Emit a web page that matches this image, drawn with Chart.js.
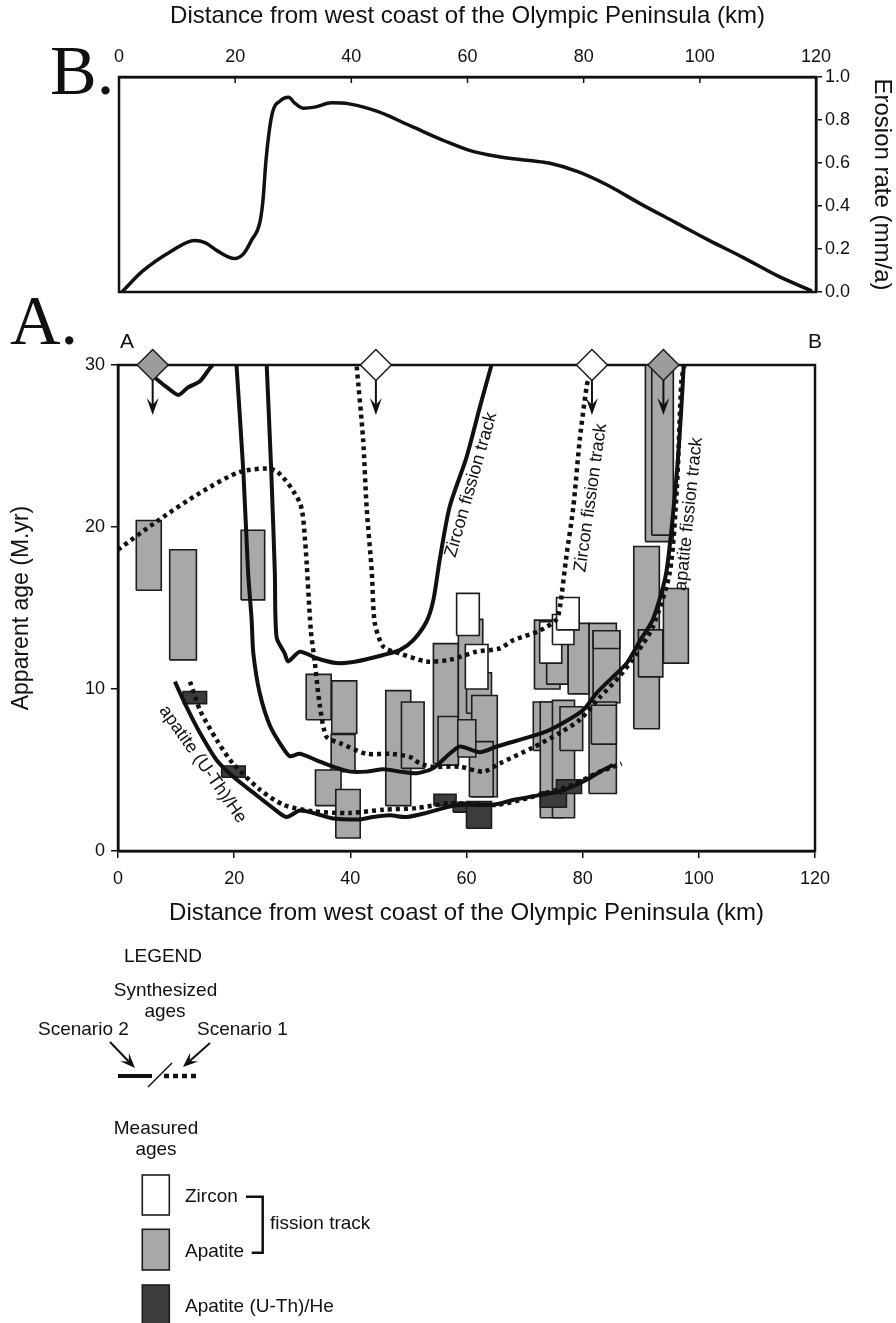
<!DOCTYPE html>
<html>
<head>
<meta charset="utf-8">
<script src="https://cdn.jsdelivr.net/npm/chart.js@4.4.0/dist/chart.umd.min.js"></script>
<style>
  body { margin: 0; background: #fff; }
  #page { position: relative; width: 896px; height: 1323px; overflow: hidden; font-family: "Liberation Sans", Arial, sans-serif; color: #111; }
  #chartB { position: absolute; left: 0; top: 0; }
  #chartA { position: absolute; left: 0; top: 300px; }
  .big { position: absolute; font-family: "Liberation Serif", "Times New Roman", serif; font-size: 70px; line-height: 1; }
  .corner { position: absolute; font-size: 21px; line-height: 1; }
  #legend { position: absolute; left: 0; top: 930px; }
</style>
</head>
<body>
<div id="page">
  <canvas id="chartB" width="896" height="310"></canvas>
  <canvas id="chartA" width="896" height="640"></canvas>
  <div class="big" style="left:50px; top:36px;">B.</div>
  <div class="big" style="left:10px; top:286px;">A.</div>
  <div class="corner" style="left:120px; top:330px;">A</div>
  <div class="corner" style="left:808px; top:330px;">B</div>
  <svg id="legend" width="450" height="393"></svg>
</div>

<script>
// B. erosion rate along the profile
const erosionKm   = [0.5, 4.1, 9, 13, 14.8, 17, 19.9, 21.5, 22.8, 24.3, 24.8, 25.3, 26.3, 27.8, 29.2, 30.2, 31.7, 33.7, 36.6, 39.6, 44.5, 50.4, 56.3, 60.2, 65.2, 71.1, 74, 79, 83.9, 89.8, 95.7, 101.6, 107.5, 113.4, 119.3];
const erosionRate = [0, 0.098, 0.19, 0.24, 0.23, 0.19, 0.156, 0.18, 0.24, 0.33, 0.43, 0.61, 0.82, 0.89, 0.906, 0.88, 0.855, 0.86, 0.88, 0.875, 0.84, 0.77, 0.70, 0.66, 0.63, 0.61, 0.6, 0.56, 0.5, 0.41, 0.325, 0.24, 0.16, 0.075, 0.005];
const distTicks = [0, 20, 40, 60, 80, 100, 120];
const rateTicks = [0, 0.2, 0.4, 0.6, 0.8, 1.0];
const ageTicks  = [0, 10, 20, 30];

// A. synthesized ages - scenario 2 (solid)
const s2TopKm  = [6.4, 8.5, 10.4, 12, 14.1, 15.8, 16.3];
const s2TopAge = [29.2, 28.6, 28.15, 28.6, 29.0, 29.8, 30];
const s2ZirconKm  = [25.6, 26.4, 27.0, 27.3, 28.7, 29.3, 31.3, 34.2, 37.6, 41, 45.7, 48.5, 50.8, 53.1, 54.3, 55.4, 57.1, 60, 62.3, 64.3];
const s2ZirconAge = [30, 23.3, 17.2, 13.2, 12.2, 11.7, 12.3, 11.9, 11.6, 11.7, 12.1, 12.4, 13.0, 14.15, 15.5, 18.0, 21.25, 24.3, 27.4, 30];
const s2ApatiteKm  = [20.4, 21.6, 22.4, 23.0, 23.3, 24.4, 26.2, 28.5, 29.6, 31.3, 34.2, 37.1, 40, 42.8, 45.7, 48.5, 51.4, 54.2, 57.1, 58.9, 62.3, 65.2, 73.2, 76.6, 80.1, 82.4, 85.2, 87.6, 89.9, 92.1, 94.4, 96.2, 97.0, 97.4];
const s2ApatiteAge = [30, 23.3, 17.2, 14.3, 12.2, 9.75, 7.7, 6.3, 5.85, 6.0, 5.6, 5.2, 4.9, 4.9, 5.05, 4.9, 4.8, 5.1, 6.0, 6.45, 6.1, 6.45, 7.3, 7.9, 8.7, 9.75, 10.75, 11.6, 13.0, 14.3, 17.2, 23.3, 27.4, 30];
const s2HeKm  = [9.8, 11.8, 14.1, 17, 19.8, 23.3, 26.7, 29, 31.3, 34.1, 37.1, 41.7, 43.9, 46.8, 49.7, 53.1, 57.1, 60, 64.6, 68, 72.6, 76.6, 80.7, 83.5, 85.2];
const s2HeAge = [10.45, 8.9, 7.3, 5.6, 4.6, 3.6, 2.65, 2.1, 2.5, 2.3, 2.0, 1.95, 2.1, 2.2, 2.1, 2.35, 2.75, 2.85, 2.85, 3.15, 3.45, 3.75, 4.4, 5.0, 5.3];

// A. synthesized ages - scenario 1 (dotted)
const s1ApatiteKm  = [0, 6.9, 14.1, 21, 27, 31.3, 32.2, 33.2, 33.9, 34.7, 35.9, 38.2, 42.8, 46.8, 50.3, 52, 54.2, 58.9, 62.9, 65.7, 71.5, 76.1, 79.5, 83, 86.4, 89.3, 92.1, 95, 96.2, 97, 97.5];
const s1ApatiteAge = [18.6, 20.4, 22.1, 23.4, 23.5, 21.5, 19.2, 13.6, 11.6, 9.1, 7.05, 6.66, 6.0, 6.0, 5.8, 5.4, 5.2, 5.2, 4.9, 5.4, 6.4, 7.3, 8.1, 9.5, 10.8, 12.2, 13.85, 17.2, 22.3, 29.0, 30];
const s1ZirconKm  = [41.1, 42.2, 42.8, 43.7, 44.2, 45.7, 48.5, 53.1, 57.1, 61.7, 65.7, 68, 72.6, 75.5, 76.1, 77.2, 78.4, 79.5, 80.7, 81.3];
const s1ZirconAge = [29.9, 25.4, 21.25, 17.2, 14.1, 12.6, 12.2, 11.7, 11.8, 12.3, 12.5, 13.0, 13.6, 14.3, 15.1, 18.2, 21.25, 25.4, 28.7, 29.6];
const s1HeKm  = [12.4, 14.1, 17, 19.8, 24.4, 28.5, 33.6, 39.9, 45.7, 51.4, 57.1, 65.2, 70.9, 73.8, 78.4, 82.4, 86.7];
const s1HeAge = [10.45, 8.7, 6.85, 5.4, 3.8, 2.85, 2.45, 2.35, 2.55, 2.65, 2.95, 2.85, 3.3, 3.6, 4.1, 4.8, 5.4];

// A. measured ages (age ranges), later entries sit on top
const apatiteLeft  = [3.15, 8.9, 21.2, 32.4, 36.8, 36.7, 34.0, 37.5, 46.1, 48.8, 54.3, 55.1, 58.6, 60.0, 60.9, 60.5, 58.5, 71.7, 73.8, 77.5, 81.1, 81.8, 81.8, 71.5, 72.7, 74.8, 76.1, 81.1, 81.5, 90.8, 91.9, 88.8, 93.9, 89.6];
const apatiteRight = [7.45, 13.5, 25.25, 36.7, 41.1, 40.8, 38.4, 41.7, 50.4, 52.7, 58.6, 58.6, 62.8, 64.3, 65.3, 64.6, 61.6, 76.1, 77.5, 81.1, 85.8, 86.4, 86.4, 74.8, 76.6, 78.6, 80.0, 85.8, 85.8, 95.6, 95.6, 93.2, 98.2, 93.8];
const apatiteLow   = [16.1, 11.8, 15.5, 8.1, 7.25, 4.9, 2.8, 0.8, 2.8, 5.1, 5.4, 5.3, 8.1, 8.5, 3.35, 3.35, 5.8, 10.0, 10.3, 9.7, 9.2, 9.15, 12.5, 6.2, 2.05, 2.05, 6.2, 3.55, 6.6, 19.1, 19.5, 7.55, 11.6, 10.75];
const apatiteHigh  = [20.4, 18.6, 19.8, 10.9, 10.5, 7.2, 5.0, 3.8, 9.9, 9.2, 12.8, 8.3, 14.3, 11.0, 9.6, 6.75, 8.1, 14.25, 12.8, 14.05, 14.05, 13.6, 13.6, 9.2, 9.2, 9.3, 8.9, 9.2, 9.0, 30, 30, 18.8, 16.2, 13.65];

const zirconLeft  = [58.3, 59.8, 72.6, 74.8, 75.5];
const zirconRight = [62.2, 63.7, 76.4, 78.5, 79.4];
const zirconLow   = [13.3, 10.0, 11.6, 12.75, 13.65];
const zirconHigh  = [15.9, 12.75, 14.15, 14.6, 15.65];

const heLeft  = [11.2, 17.85, 54.4, 57.7, 60.0, 72.7, 75.5];
const heRight = [15.25, 21.9, 58.2, 61.7, 64.3, 77.2, 79.8];
const heLow   = [9.1, 4.55, 2.8, 2.4, 1.4, 2.7, 3.55];
const heHigh  = [9.85, 5.25, 3.5, 3.0, 3.05, 3.65, 4.4];

// samples older than 30 Ma (markers on the top edge)
const oldKm   = [5.97, 44.4, 81.6, 93.9];
const oldKind = ['apatite', 'zircon', 'zircon', 'apatite'];

const INK = '#111';
const GRAY = '#a8a8a8';
const DARK = '#3c3c3c';
Chart.defaults.font.family = '"Liberation Sans", Arial, sans-serif';
Chart.defaults.color = INK;

function pts(xs, ys) {
    return xs.map((x, i) => ({ x: x, y: ys[i] }));
}

// closed outline of one age range
function boxPts(x0, x1, y0, y1) {
    return [{x: x0, y: y0}, {x: x1, y: y0}, {x: x1, y: y1}, {x: x0, y: y1}, {x: x0, y: y0}];
}

function curve(xs, ys, dotted) {
    return {
        data: pts(xs, ys),
        borderColor: INK,
        borderWidth: dotted ? 4.5 : 4,
        borderDash: dotted ? [4, 4] : [],
        borderCapStyle: 'butt',
        borderJoinStyle: 'round',
        tension: 0.25,
        pointRadius: 0,
        fill: false,
        order: 1
    };
}

function boxes(left, right, low, high, color, order) {
    const list = [];
    // reversed so the last range of each list is drawn on top
    for (let i = left.length - 1; i >= 0; i--) {
        list.push({
            data: boxPts(left[i], right[i], low[i], high[i]),
            borderColor: '#1c1c1c',
            borderWidth: 1.6,
            backgroundColor: color,
            fill: 'shape',
            tension: 0,
            pointRadius: 0,
            order: order
        });
    }
    return list;
}

// frame round the plot area
const framePlugin = {
    id: 'frame',
    beforeDatasetsDraw(chart) {
        const a = chart.chartArea;
        const ctx = chart.ctx;
        ctx.save();
        ctx.strokeStyle = INK;
        ctx.lineWidth = 2.5;
        ctx.strokeRect(a.left, a.top, a.right - a.left, a.bottom - a.top);
        ctx.restore();
    }
};

// short tick marks pointing into the plot from the top axis
const innerTicksPlugin = {
    id: 'innerTicks',
    afterDraw(chart) {
        const xs = chart.scales.x;
        const top = chart.chartArea.top;
        const ctx = chart.ctx;
        ctx.save();
        ctx.strokeStyle = INK;
        ctx.lineWidth = 1.5;
        xs.ticks.forEach(t => {
            const px = xs.getPixelForValue(t.value);
            ctx.beginPath();
            ctx.moveTo(px, top);
            ctx.lineTo(px, top + 6);
            ctx.stroke();
        });
        ctx.restore();
    }
};

// labels next to the curves, anchored in data units
const curveNotes = [
    { text: 'Zircon fission track',  km: 60.8, age: 22.6, angle: -74 },
    { text: 'Zircon fission track',  km: 81.4, age: 21.8, angle: -82 },
    { text: 'apatite fission track', km: 98.3, age: 20.8, angle: -84 },
    { text: 'apatite (U-Th)/He',     km: 14.6, age: 5.35, angle: 55 }
];

const notesPlugin = {
    id: 'notes',
    afterDatasetsDraw(chart) {
        const ctx = chart.ctx;
        const xs = chart.scales.x;
        const ys = chart.scales.y;
        ctx.save();
        ctx.fillStyle = INK;
        ctx.strokeStyle = INK;

        // arrows under the > 30 Ma markers
        const yTop = ys.getPixelForValue(30);
        oldKm.forEach(km => {
            const px = xs.getPixelForValue(km);
            const tip = yTop + 50;
            ctx.lineWidth = 2;
            ctx.beginPath();
            ctx.moveTo(px, yTop + 15);
            ctx.lineTo(px, tip - 8);
            ctx.stroke();
            ctx.beginPath();
            ctx.moveTo(px, tip);
            ctx.lineTo(px - 6, tip - 17);
            ctx.lineTo(px, tip - 10);
            ctx.lineTo(px + 6, tip - 17);
            ctx.closePath();
            ctx.fill();
        });

        ctx.font = '18px "Liberation Sans", Arial, sans-serif';
        ctx.textAlign = 'center';
        ctx.textBaseline = 'middle';
        curveNotes.forEach(n => {
            ctx.save();
            ctx.translate(xs.getPixelForValue(n.km), ys.getPixelForValue(n.age));
            ctx.rotate(n.angle * Math.PI / 180);
            ctx.fillText(n.text, 0, 0);
            ctx.restore();
        });
        ctx.restore();
    }
};

const axisGrid = { drawOnChartArea: false, tickLength: 7, color: INK, lineWidth: 1.5 };
const axisBorder = { color: INK, width: 2.5 };
const distTitle = 'Distance from west coast of the Olympic Peninsula (km)';

// ---- chart B ----
new Chart(document.getElementById('chartB'), {
    type: 'line',
    data: {
        datasets: [{
            data: pts(erosionKm, erosionRate),
            borderColor: INK,
            borderWidth: 3.5,
            cubicInterpolationMode: 'monotone',
            pointRadius: 0,
            fill: false
        }]
    },
    options: {
        responsive: false,
        animation: false,
        layout: { padding: { left: 119, right: 0, top: 0, bottom: 18 } },
        plugins: { legend: { display: false }, tooltip: { enabled: false } },
        scales: {
            x: {
                type: 'linear', position: 'top', min: 0, max: 120,
                afterBuildTicks: s => { s.ticks = distTicks.map(v => ({ value: v })); },
                ticks: { font: { size: 18 }, padding: 9, maxRotation: 0 },
                grid: { drawOnChartArea: false, drawTicks: false, color: INK, lineWidth: 1.5 },
                border: axisBorder,
                title: { display: true, text: distTitle, font: { size: 24 }, padding: { top: 2, bottom: 4 } },
                afterFit: s => { s.height = 77; }
            },
            y: {
                position: 'right', min: 0, max: 1,
                afterBuildTicks: s => { s.ticks = rateTicks.map(v => ({ value: v })); },
                ticks: { font: { size: 18 }, padding: 3, callback: v => v.toFixed(1) },
                grid: Object.assign({}, axisGrid, { tickLength: 6 }),
                border: axisBorder,
                title: { display: true, text: 'Erosion rate (mm/a)', font: { size: 24 }, padding: 0 },
                afterFit: s => { s.width = 80; }
            }
        }
    },
    plugins: [framePlugin, innerTicksPlugin]
});

// ---- chart A ----
const datasetsA = [
    {
        data: oldKm.map(km => ({ x: km, y: 30 })),
        showLine: false,
        pointStyle: 'rectRot',
        pointRadius: 15.5,
        pointBackgroundColor: oldKind.map(k => k === 'zircon' ? '#ffffff' : '#9c9c9c'),
        pointBorderColor: '#1c1c1c',
        pointBorderWidth: 1.5,
        clip: false,
        order: 0
    },
    curve(s2TopKm, s2TopAge, false),
    curve(s2ZirconKm, s2ZirconAge, false),
    curve(s2ApatiteKm, s2ApatiteAge, false),
    curve(s2HeKm, s2HeAge, false),
    curve(s1ApatiteKm, s1ApatiteAge, true),
    curve(s1ZirconKm, s1ZirconAge, true),
    curve(s1HeKm, s1HeAge, true)
].concat(
    boxes(zirconLeft, zirconRight, zirconLow, zirconHigh, '#ffffff', 2),
    boxes(heLeft, heRight, heLow, heHigh, DARK, 3),
    boxes(apatiteLeft, apatiteRight, apatiteLow, apatiteHigh, GRAY, 4)
);

new Chart(document.getElementById('chartA'), {
    type: 'line',
    data: { datasets: datasetsA },
    options: {
        responsive: false,
        animation: false,
        layout: { padding: { left: 0, right: 81, top: 65, bottom: 0 } },
        plugins: { legend: { display: false }, tooltip: { enabled: false } },
        scales: {
            x: {
                type: 'linear', min: 0, max: 120,
                afterBuildTicks: s => { s.ticks = distTicks.map(v => ({ value: v })); },
                ticks: { font: { size: 18 }, padding: 10, maxRotation: 0 },
                grid: axisGrid,
                border: axisBorder,
                title: { display: true, text: distTitle, font: { size: 24 }, padding: { top: 0, bottom: 12 } },
                afterFit: s => { s.height = 89; }
            },
            y: {
                min: 0, max: 30,
                afterBuildTicks: s => { s.ticks = ageTicks.map(v => ({ value: v })); },
                ticks: { font: { size: 18 }, padding: 6 },
                grid: axisGrid,
                border: axisBorder,
                title: { display: true, text: 'Apparent age (M.yr)', font: { size: 23 }, padding: 8 },
                afterFit: s => { s.width = 118; }
            }
        }
    },
    plugins: [framePlugin, notesPlugin]
});

// ---- legend ----
function arrowPath(x1, y1, x2, y2) {
    const len = Math.hypot(x2 - x1, y2 - y1);
    const ux = (x2 - x1) / len, uy = (y2 - y1) / len;
    const px = -uy, py = ux;
    const bx = x2 - ux * 15, by = y2 - uy * 15;
    const nx = x2 - ux * 9, ny = y2 - uy * 9;
    return `<line x1="${x1}" y1="${y1}" x2="${nx}" y2="${ny}" stroke="${INK}" stroke-width="2"/>` +
        `<polygon points="${x2},${y2} ${bx + px * 6},${by + py * 6} ${nx},${ny} ${bx - px * 6},${by - py * 6}" fill="${INK}"/>`;
}

const lg = document.getElementById('legend');
lg.innerHTML = `
<g font-family="Liberation Sans, Arial, sans-serif" font-size="19" fill="${INK}">
  <text x="163" y="31.7" text-anchor="middle">LEGEND</text>
  <text x="165.5" y="66" text-anchor="middle">Synthesized</text>
  <text x="165" y="87.3" text-anchor="middle">ages</text>
  <text x="38" y="104.7">Scenario 2</text>
  <text x="197" y="104.7">Scenario 1</text>
  <text x="156" y="204" text-anchor="middle">Measured</text>
  <text x="156" y="225.3" text-anchor="middle">ages</text>
  <text x="185" y="271.7">Zircon</text>
  <text x="185" y="326.7">Apatite</text>
  <text x="185" y="381.7">Apatite (U-Th)/He</text>
  <text x="270" y="299.3">fission track</text>
</g>
${arrowPath(110, 112, 135, 138)}
${arrowPath(210, 113, 183, 137)}
<line x1="118" y1="146" x2="152" y2="146" stroke="${INK}" stroke-width="4"/>
<line x1="148" y1="157" x2="172" y2="133" stroke="${INK}" stroke-width="1.5"/>
<line x1="164" y1="146" x2="198" y2="146" stroke="${INK}" stroke-width="4.5" stroke-dasharray="5 4"/>
<rect x="142.3" y="245" width="27" height="40" fill="#fff" stroke="#1c1c1c" stroke-width="1.6"/>
<rect x="142.3" y="299.3" width="27" height="40.7" fill="${GRAY}" stroke="#1c1c1c" stroke-width="1.6"/>
<rect x="142.3" y="355" width="27" height="45" fill="${DARK}" stroke="#1c1c1c" stroke-width="1.6"/>
<path d="M246 266.7 H262.7 V322.7 H251.7" fill="none" stroke="${INK}" stroke-width="2.5"/>
`;
</script>
</body>
</html>
